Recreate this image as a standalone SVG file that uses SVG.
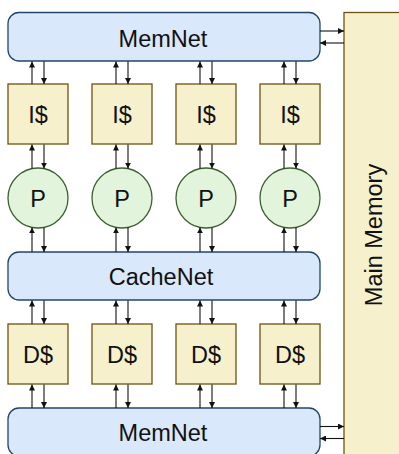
<svg xmlns="http://www.w3.org/2000/svg" width="399" height="454" viewBox="0 0 399 454">
<style>
.net{fill:#dae8fc;stroke:#23446b;stroke-width:1.3}
.cache{fill:#f6f1cc;stroke:#6b5410;stroke-width:1.3}
.proc{fill:#e3f4dd;stroke:#3d6030;stroke-width:1.3}
.lbl{font-family:"Liberation Sans",Arial,sans-serif;font-size:23.5px;fill:#111;text-anchor:middle}
.c{fill:none;stroke:#111;stroke-width:1.1;marker-end:url(#ah)}
</style>
<defs>
<marker id="ah" markerUnits="userSpaceOnUse" markerWidth="7" markerHeight="6" refX="6" refY="3" orient="auto">
<path d="M0,0 L6,3 L0,6 z" fill="#111"/>
</marker>
</defs>
<g id="mainmem"><rect class="cache" x="344" y="12.5" width="60" height="444"/>
<text class="lbl" transform="translate(382,235) rotate(-90)">Main Memory</text></g>
<g id="memnet-top"><rect class="net" x="8" y="12.5" width="312" height="48.5" rx="11"/><text class="lbl" x="163" y="46.5">MemNet</text></g>
<g id="cachenet"><rect class="net" x="8" y="252" width="312" height="48" rx="11"/><text class="lbl" x="161" y="285">CacheNet</text></g>
<g id="memnet-bot"><rect class="net" x="8" y="408" width="312" height="48" rx="11"/><text class="lbl" x="163" y="441">MemNet</text></g>
<g id="i1"><rect class="cache" x="8" y="84" width="60" height="60"/><text class="lbl" x="38" y="122.5">I$</text></g>
<g id="i2"><rect class="cache" x="92" y="84" width="60" height="60"/><text class="lbl" x="122" y="122.5">I$</text></g>
<g id="i3"><rect class="cache" x="176" y="84" width="60" height="60"/><text class="lbl" x="206" y="122.5">I$</text></g>
<g id="i4"><rect class="cache" x="260" y="84" width="60" height="60"/><text class="lbl" x="290" y="122.5">I$</text></g>
<g id="p1"><circle class="proc" cx="38" cy="198" r="30"/><text class="lbl" x="38" y="206.5">P</text></g>
<g id="p2"><circle class="proc" cx="122" cy="198" r="30"/><text class="lbl" x="122" y="206.5">P</text></g>
<g id="p3"><circle class="proc" cx="206" cy="198" r="30"/><text class="lbl" x="206" y="206.5">P</text></g>
<g id="p4"><circle class="proc" cx="290" cy="198" r="30"/><text class="lbl" x="290" y="206.5">P</text></g>
<g id="d1"><rect class="cache" x="8" y="324" width="60" height="60"/><text class="lbl" x="38" y="363">D$</text></g>
<g id="d2"><rect class="cache" x="92" y="324" width="60" height="60"/><text class="lbl" x="122" y="363">D$</text></g>
<g id="d3"><rect class="cache" x="176" y="324" width="60" height="60"/><text class="lbl" x="206" y="363">D$</text></g>
<g id="d4"><rect class="cache" x="260" y="324" width="60" height="60"/><text class="lbl" x="290" y="363">D$</text></g>
<g id="connectors">
<path class="c" d="M32,84V61.5"/><path class="c" d="M44,61.5V84"/>
<path class="c" d="M116,84V61.5"/><path class="c" d="M128,61.5V84"/>
<path class="c" d="M200,84V61.5"/><path class="c" d="M212,61.5V84"/>
<path class="c" d="M284,84V61.5"/><path class="c" d="M296,61.5V84"/>
<path class="c" d="M32,168.6V144.5"/><path class="c" d="M44,144.5V168.6"/>
<path class="c" d="M116,168.6V144.5"/><path class="c" d="M128,144.5V168.6"/>
<path class="c" d="M200,168.6V144.5"/><path class="c" d="M212,144.5V168.6"/>
<path class="c" d="M284,168.6V144.5"/><path class="c" d="M296,144.5V168.6"/>
<path class="c" d="M32,252V227.4"/><path class="c" d="M44,227.4V252"/>
<path class="c" d="M116,252V227.4"/><path class="c" d="M128,227.4V252"/>
<path class="c" d="M200,252V227.4"/><path class="c" d="M212,227.4V252"/>
<path class="c" d="M284,252V227.4"/><path class="c" d="M296,227.4V252"/>
<path class="c" d="M32,324V300.5"/><path class="c" d="M44,300.5V324"/>
<path class="c" d="M116,324V300.5"/><path class="c" d="M128,300.5V324"/>
<path class="c" d="M200,324V300.5"/><path class="c" d="M212,300.5V324"/>
<path class="c" d="M284,324V300.5"/><path class="c" d="M296,300.5V324"/>
<path class="c" d="M32,408V384.5"/><path class="c" d="M44,384.5V408"/>
<path class="c" d="M116,408V384.5"/><path class="c" d="M128,384.5V408"/>
<path class="c" d="M200,408V384.5"/><path class="c" d="M212,384.5V408"/>
<path class="c" d="M284,408V384.5"/><path class="c" d="M296,384.5V408"/>
<path class="c" d="M320,31H344"/><path class="c" d="M344,43H320"/>
<path class="c" d="M320,426.5H344"/><path class="c" d="M344,438.5H320"/>
</g>
</svg>
